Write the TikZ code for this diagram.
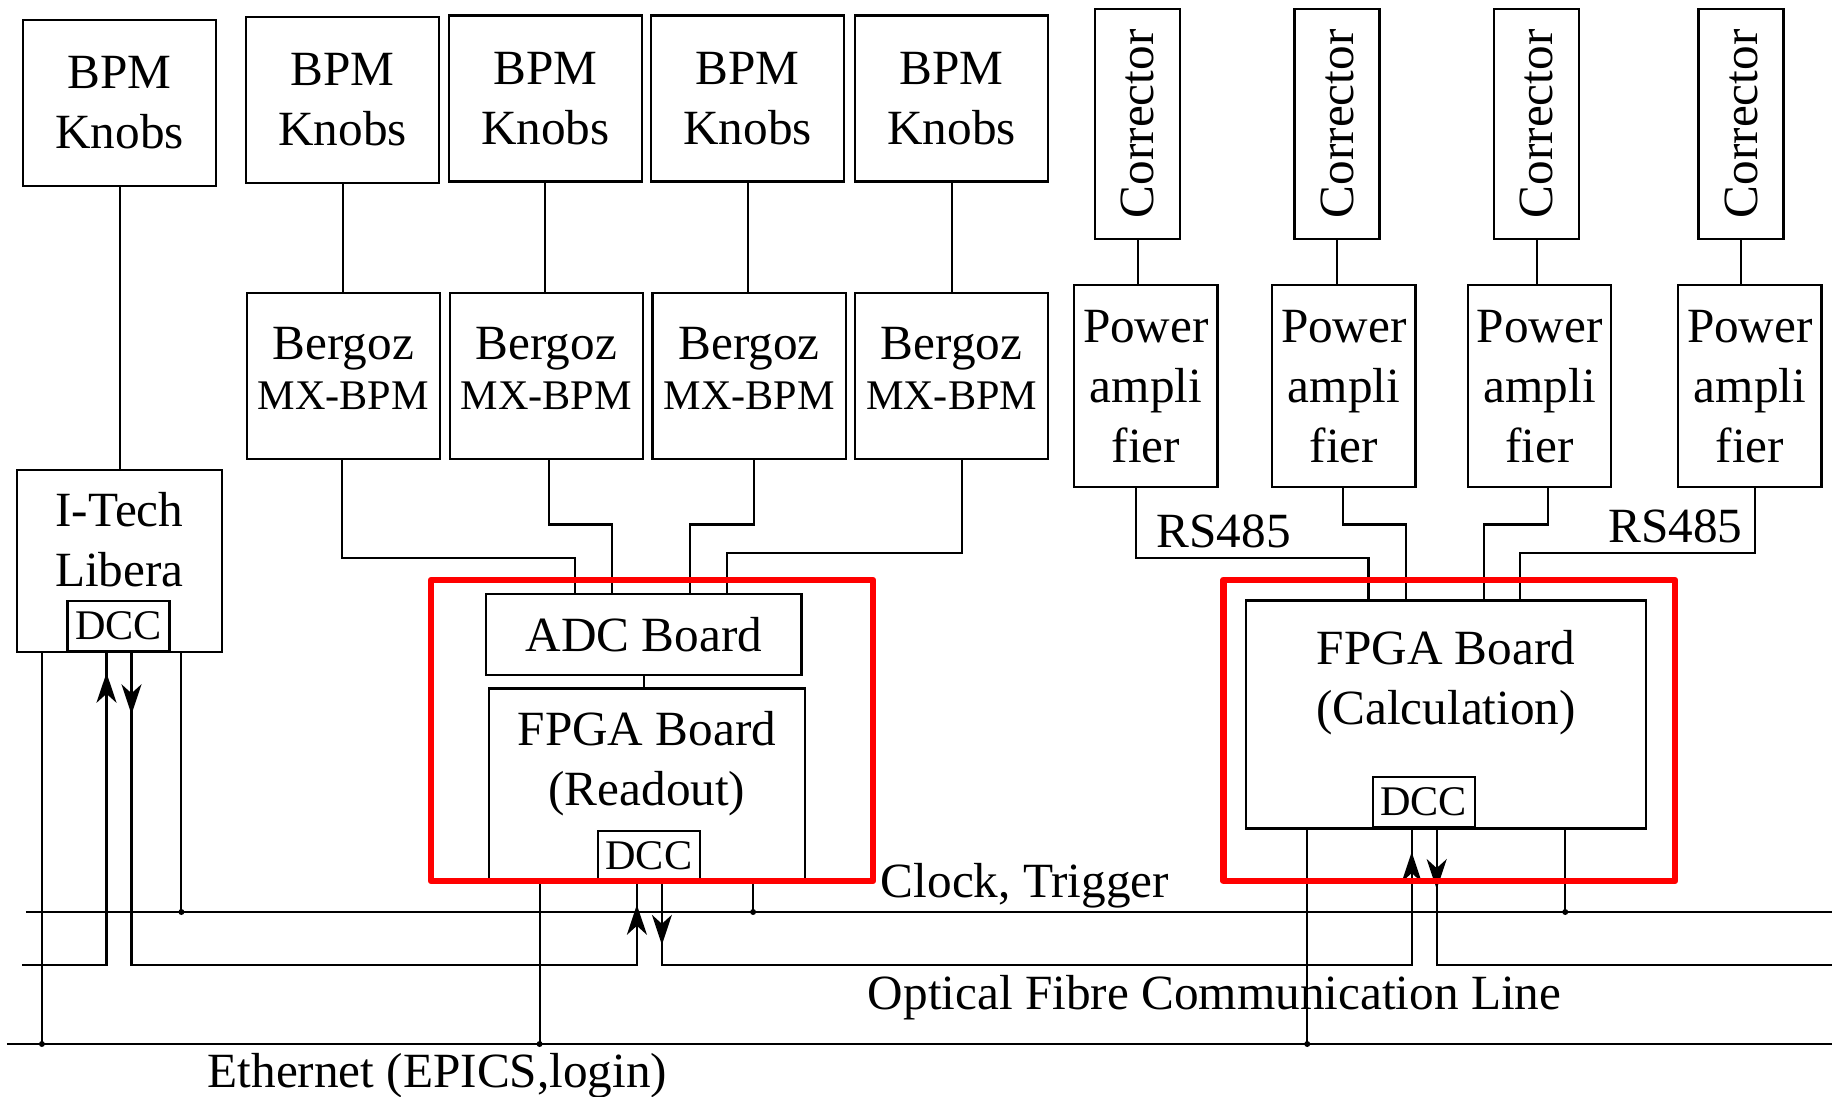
\documentclass[tikz,border=0pt]{standalone}
\usepackage{fontspec}
\setmainfont{Liberation Serif}
\usepackage{graphicx}
\usetikzlibrary{arrows.meta,decorations.markings,calc}
\newcommand\boxfont{\fontsize{14pt}{17.07pt}\selectfont}
\newcommand\dccfont{\fontsize{12pt}{14.4pt}\selectfont}
\tikzset{
  box/.style={draw, line width=0.6pt, inner sep=0pt, align=center, font=\boxfont},
  knob/.style={box, minimum width=1.93cm, minimum height=1.66cm},
  corr/.style={box, minimum width=0.85cm, minimum height=2.30cm},
  amp/.style={box, minimum width=1.43cm, minimum height=2.02cm},
  dccbox/.style={box, font=\dccfont, minimum width=1.02cm, minimum height=0.50cm},
  txt/.style={inner sep=0pt, align=center, font=\boxfont},
  lbl/.style={inner sep=0pt, font=\boxfont, anchor=base west},
  dot/.style={circle, fill, inner sep=0pt, minimum size=0.06cm},
  redframe/.style={draw=red, line width=1.85pt, line join=round},
  onearrow/.style={postaction={decorate},
    decoration={markings, mark=at position #1 with {\arrow{>}}}},
  twoarrows/.style 2 args={postaction={decorate},
    decoration={markings, mark=at position #1 with {\arrow{>}},
                          mark=at position #2 with {\arrow{>}}}}
}
\begin{document}
\begin{tikzpicture}[x=0.01cm, y=-0.01cm, line width=0.6pt,
  >={Stealth[length=0.3cm, width=0.2cm, inset=0.09cm]}]
\useasboundingbox (0,0) rectangle (1832,1097);

% BPM knobs
\node[knob] (k0) at (119.7,102.7) {BPM\\Knobs};
\node[knob] (k1) at (342.7,100) {BPM\\Knobs};
\node[knob] (k2) at (545.3,98.5) {BPM\\Knobs};
\node[knob] (k3) at (747.7,98.5) {BPM\\Knobs};
\node[knob] (k4) at (951.6,98.5) {BPM\\Knobs};

% Bergoz electronics
\foreach \i/\x in {1/343.4, 2/546.3, 3/749.1, 4/951.6}
  \node[knob] (b\i) at (\x,376) {Bergoz\\[-2.6pt]{\dccfont MX-BPM\strut}};

% correctors and power amplifiers
\foreach \i/\x in {1/1137.8, 2/1337, 3/1536.9, 4/1741}
  \node[corr] (c\i) at (\x,123.8) {\rotatebox{90}{Corrector}};
\foreach \i/\x in {1/1145.9, 2/1343.9, 3/1539.6, 4/1749.9}
  \node[amp] (p\i) at (\x,386.3) {Power\\ampli\\fier};

% Libera
\node[box, minimum width=2.044cm, minimum height=1.824cm] (lib) at (119.4,561) {};
\node[txt] (libtxt) at (119.4,539.8) {I-Tech\\Libera};
\node[dccbox] (dl) at (118.5,626.2) {DCC};

% readout crate
\node[box, minimum width=3.151cm, minimum height=0.817cm] (adc) at (643.8,634.5) {ADC Board};
\node[box, minimum width=3.157cm, minimum height=1.925cm] (fr) at (646.9,784.8) {};
\node[txt] (frtxt) at (646.9,764) {FPGA Board\\(Readout)};
\node[dccbox] (dr) at (648.9,855.7) {DCC};

% calculation crate
\node[box, minimum width=4.0cm, minimum height=2.278cm] (fc) at (1446,714.5) {};
\node[txt] (fctxt) at (1446,683) {FPGA Board\\(Calculation)};
\node[dccbox] (dc) at (1423.7,802) {DCC};

% vertical links
\draw (k0.south) -- (k0.south |- lib.north);
\foreach \i in {1,...,4} {
  \draw (k\i.south) -- (k\i.south |- b\i.north);
  \draw (c\i.south) -- (c\i.south |- p\i.north);
}
\draw (adc.south) -- (adc.south |- fr.north);

% Bergoz outputs into the ADC board
\draw ($(b1.south)+(-1,0)$) -- ++(0,98.3) -| ($(adc.north west)+(90.1,0)$);
\draw ($(b2.south)+(3,0)$) -- ++(0,64.4) -| ($(adc.north west)+(126.8,0)$);
\draw ($(b3.south)+(5,0)$) -- ++(0,64.4) -| ($(adc.north west)+(204.9,0)$);
\draw ($(b4.south)+(10,0)$) -- ++(0,92.5) -| ($(adc.north west)+(241.6,0)$);

% RS485 links to the calculation board
\draw ($(p1.south)+(-10,0)$) -- ++(0,70) -| ($(fc.north west)+(123.7,0)$);
\draw ($(p2.south)+(-1,0)$) -- ++(0,36.1) -| ($(fc.north west)+(161.1,0)$);
\draw ($(p3.south)+(8.3,0)$) -- ++(0,36.1) -| ($(fc.north west)+(239,0)$);
\draw ($(p4.south)+(4.8,0)$) -- ++(0,64.2) -| ($(fc.north west)+(275.2,0)$);

% buses
\coordinate (clkL) at (25.8,912);  \coordinate (clkR) at (1832,912);
\coordinate (optL) at (21.8,965);  \coordinate (optR) at (1832,965);
\coordinate (ethL) at (6.9,1044);  \coordinate (ethR) at (1832,1044);
\draw (clkL) -- (clkR);
\draw (ethL) -- (ethR);

% ethernet and clock taps
\draw ($(lib.south west)+(25.8,0)$) coordinate (t1) -- (t1 |- ethL) node[dot] {};
\draw ($(lib.south west)+(165.3,0)$) coordinate (t2) -- (t2 |- clkL) node[dot] {};
\draw ($(fr.south west)+(51.7,0)$) coordinate (t3) -- (t3 |- ethL) node[dot] {};
\draw ($(fr.south west)+(265.2,0)$) coordinate (t4) -- (t4 |- clkL) node[dot] {};
\draw ($(fc.south west)+(62.4,0)$) coordinate (t5) -- (t5 |- ethL) node[dot] {};
\draw ($(fc.south west)+(320.4,0)$) coordinate (t6) -- (t6 |- clkL) node[dot] {};

% optical fibre ring through the DCC modules
\draw[onearrow=-0.205cm] (optL) -| ($(dl.south)+(-12,0)$);
\draw[twoarrows={0.62cm}{-0.23cm}] ($(dl.south)+(13,0)$) coordinate (o1)
  -- (o1 |- optL) -| ($(dr.south)+(-12,0)$);
\draw[twoarrows={0.63cm}{-0.24cm}] ($(dr.south)+(13,0)$) coordinate (o2)
  -- (o2 |- optL) -| ($(dc.south)+(-12,0)$);
\draw[onearrow=0.61cm] ($(dc.south)+(13,0)$) |- (optR);

% crate outlines
\draw[redframe] (431,580) rectangle (873,881);
\draw[redframe] (1223.3,580) rectangle (1675,881);

% labels
\node[lbl] (rs1) at (1155.6,547.8) {RS485};
\node[lbl] (rs2) at (1607.3,542.8) {RS485};
\node[lbl] (clk) at (879.8,897.7) {Clock, Trigger};
\node[lbl] (opt) at (866.9,1009) {Optical Fibre Communication Line};
\node[lbl] (eth) at (206.6,1087) {Ethernet (EPICS,login)};
\end{tikzpicture}
\end{document}
